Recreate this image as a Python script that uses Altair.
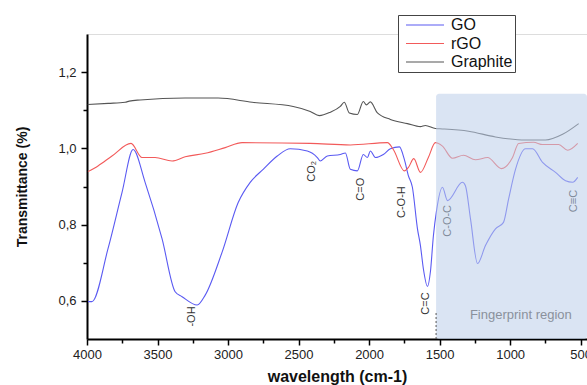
import altair as alt
import pandas as pd

# ---------------- data ----------------
go_wn = [3993, 3965, 3851, 3752, 3673, 3588, 3468, 3375, 3326, 3219, 3162, 3042, 2928,
         2843, 2751, 2651, 2559, 2438, 2367, 2346, 2296, 2204, 2168, 2133, 2083, 2041,
         2012, 1991, 1955, 1899, 1849, 1785, 1750, 1721, 1693, 1657, 1636, 1615, 1586,
         1565, 1544, 1522, 1480, 1444, 1338, 1317, 1281, 1231, 1175, 1104, 1047, 1011,
         962, 891, 841, 770, 678, 607, 557, 521]
go_t = [0.598, 0.598, 0.737, 0.884, 0.997, 0.911, 0.763, 0.624, 0.611, 0.589, 0.615, 0.728, 0.858,
        0.911, 0.945, 0.980, 0.999, 0.993, 0.976, 0.967, 0.980, 0.984, 0.988, 0.945, 0.941, 0.984,
        0.976, 0.993, 0.976, 0.984, 0.999, 1.004, 0.971, 0.928, 0.898, 0.789, 0.745, 0.684, 0.638,
        0.677, 0.771, 0.836, 0.898, 0.863, 0.911, 0.902, 0.815, 0.698, 0.745, 0.789, 0.806, 0.867,
        0.945, 0.999, 0.999, 0.963, 0.937, 0.915, 0.911, 0.924]

rgo_wn = [3993, 3922, 3823, 3688, 3610, 3517, 3397, 3304, 3162, 3020, 2900, 2417, 2133,
          1870, 1828, 1750, 1721, 1683, 1636, 1579, 1530, 1480, 1409, 1331, 1246, 1160,
          1061, 983, 940, 834, 770, 656, 592, 521]
rgo_t = [0.939, 0.954, 0.980, 1.013, 0.976, 0.976, 0.967, 0.978, 0.987, 1.002, 1.015, 1.013, 1.009,
         1.015, 0.997, 0.941, 0.950, 0.973, 0.937, 0.977, 1.015, 1.006, 0.974, 0.982, 0.970, 0.976,
         0.947, 0.976, 1.013, 1.016, 1.010, 1.010, 0.995, 1.013]

gr_wn = [3995, 3850, 3730, 3700, 3624, 3304, 3070, 2829, 2538, 2417, 2353, 2275, 2204,
         2176, 2140, 2083, 2041, 2019, 1991, 1941, 1849, 1728, 1636, 1601, 1530, 1480,
         1295, 1104, 891, 749, 628, 514]
gr_t = [1.115, 1.118, 1.121, 1.124, 1.127, 1.132, 1.132, 1.121, 1.110, 1.097, 1.086, 1.095, 1.110,
        1.121, 1.093, 1.089, 1.123, 1.114, 1.122, 1.093, 1.076, 1.065, 1.057, 1.060, 1.052, 1.051,
        1.045, 1.030, 1.022, 1.022, 1.037, 1.065]

series_names = ["GO", "rGO", "Graphite"]
series_colors = ["#5a5af2", "#f25a5a", "#555555"]

x_domain = [4000, 455]
y_domain = [0.5, 1.3]
x_ticks = [4000, 3750, 3500, 3250, 3000, 2750, 2500, 2250, 2000, 1750, 1500, 1250, 1000, 750, 500]
y_ticks = [0.6, 0.7, 0.8, 0.9, 1.0, 1.1, 1.2]

region_start, region_end, region_top, region_bottom = 1525, 455, 1.143, 0.5
region_label = "Fingerprint region"
region_label_wn, region_label_t = 1285, 0.562
dash_top = 0.57

ann_labels = ["-OH", "CO\u2082", "C=O", "C-O-H", "C=C", "C-O-C", "C\u2261C"]
ann_wn = [3255, 2403, 2055, 1764, 1593, 1444, 550]
ann_t = [0.559, 0.940, 0.893, 0.859, 0.593, 0.810, 0.862]

# ---------------- tables ----------------
rows = []
for name, wns, ts in [("GO", go_wn, go_t), ("rGO", rgo_wn, rgo_t), ("Graphite", gr_wn, gr_t)]:
    for w, t in zip(wns, ts):
        rows.append({"series": name, "wn": w, "t": t})
df_lines = pd.DataFrame(rows)
df_ann = pd.DataFrame({"label": ann_labels, "wn": ann_wn, "t": ann_t})
df_region = pd.DataFrame({"wn": [region_start], "wn2": [region_end],
                          "t": [region_bottom], "t2": [region_top]})
df_rlabel = pd.DataFrame({"label": [region_label], "wn": [region_label_wn], "t": [region_label_t]})
df_dash = pd.DataFrame({"wn": [region_start], "t": [region_bottom], "t2": [dash_top]})

FONT = "Liberation Sans"

x_scale = alt.Scale(domain=x_domain, nice=False, zero=False)
y_scale = alt.Scale(domain=y_domain, nice=False, zero=False)

x_axis = alt.Axis(
    values=x_ticks,
    labelExpr="datum.value % 500 === 0 ? format(datum.value, 'd') : ''",
    tickSize={"condition": {"test": "datum.value % 500 === 0", "value": 6}, "value": 4},
    grid=False, domainColor="black", domainWidth=2, tickColor="black", tickWidth=1.5,
    labelFont=FONT, labelFontSize=13, labelColor="#222", labelPadding=3,
    title="wavelength (cm-1)", titleFont=FONT, titleFontSize=16, titleFontWeight="bold",
    titleColor="#111", titlePadding=7, labelFlush=False, labelOverlap=False,
)
y_axis = alt.Axis(
    values=y_ticks,
    labelExpr="round(datum.value*10) % 2 === 0 ? replace(format(datum.value, '.1f'), '.', ',') : ''",
    tickSize={"condition": {"test": "round(datum.value*10) % 2 === 0", "value": 6}, "value": 4},
    grid=False, domainColor="black", domainWidth=2, tickColor="black", tickWidth=1.5,
    labelFont=FONT, labelFontSize=13, labelColor="#222", labelPadding=5,
    title="Transmittance (%)", titleFont=FONT, titleFontSize=14, titleFontWeight="bold",
    titleColor="#111", titlePadding=28, labelOverlap=False,
)


def X(field="wn"):
    return alt.X(f"{field}:Q", scale=x_scale, axis=x_axis)


def Y(field="t"):
    return alt.Y(f"{field}:Q", scale=y_scale, axis=y_axis)


lines = alt.Chart(df_lines).mark_line(strokeWidth=1.1, interpolate="monotone").encode(
    x=X(), y=Y(),
    color=alt.Color("series:N",
                    scale=alt.Scale(domain=series_names, range=series_colors),
                    legend=alt.Legend(orient="none", legendX=311, legendY=-19, title=None,
                                      strokeColor="#444", fillColor="white", padding=2,
                                      symbolType="M-0.333,0L6,0", symbolSize=144,
                                      symbolStrokeWidth=1.2, labelFont=FONT, labelFontSize=16,
                                      labelColor="#111", labelOffset=35, rowPadding=2.5)),
    detail="series:N",
)

ann = alt.Chart(df_ann).mark_text(angle=270, align="center", baseline="middle",
                                  font=FONT, fontSize=11, color="#333").encode(
    x=X(), y=Y(), text="label:N")

shade = alt.Chart(df_region).mark_rect(color="#bccee9", opacity=0.55, cornerRadius=3).encode(
    x=X(), x2="wn2:Q", y=Y(), y2="t2:Q")

dash = alt.Chart(df_dash).mark_rule(color="#555", strokeDash=[2, 2], strokeWidth=1).encode(
    x=X(), y=Y(), y2="t2:Q")

rlabel = alt.Chart(df_rlabel).mark_text(align="left", baseline="middle", font=FONT,
                                        fontSize=13, color="#8a919c").encode(
    x=X(), y=Y(), text="label:N")

chart = alt.layer(lines, ann, shade, dash, rlabel).properties(
    width=500, height=305,
    autosize=alt.AutoSizeParams(type="none"),
    padding={"left": 87, "top": 34, "right": 0, "bottom": 46},
).configure_view(stroke=None).configure(background="white")

chart.save("out.html", embed_options={"renderer": "svg", "actions": False})
